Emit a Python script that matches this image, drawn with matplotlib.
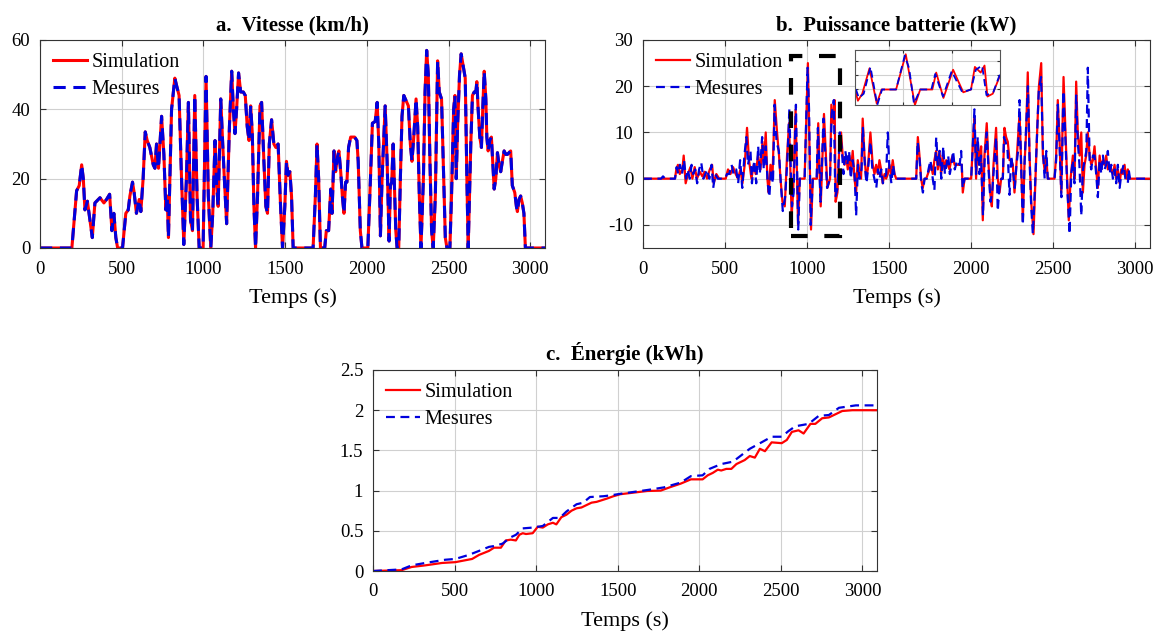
import numpy as np
import matplotlib.pyplot as plt
from matplotlib.patches import Rectangle
from matplotlib.ticker import FuncFormatter

plt.rcParams['font.family'] = ['Liberation Serif', 'DejaVu Serif']
plt.rcParams['axes.unicode_minus'] = False

# a. vitesse (km/h) - simulation and measures share the same profile
v_time = [0, 195, 224, 240, 255, 265, 275, 290, 300, 320, 336, 367, 391, 407, 426, 440, 452, 464, 475, 505,
          525, 540, 550, 566, 576, 590, 607, 617, 631, 644, 656, 672, 693, 703, 713, 725, 744, 758, 770, 778,
          786, 805, 825, 835, 851, 866, 880, 896, 908, 921, 933, 947, 961, 974, 998, 1016, 1030, 1045, 1057, 1071,
          1081, 1090, 1106, 1118, 1128, 1142, 1159, 1173, 1183, 1193, 1203, 1215, 1228, 1244, 1256, 1268, 1279, 1289, 1299, 1309,
          1319, 1331, 1346, 1356, 1370, 1382, 1392, 1403, 1417, 1431, 1443, 1457, 1472, 1484, 1498, 1508, 1518, 1529, 1539, 1549,
          1671, 1685, 1695, 1705, 1716, 1742, 1752, 1766, 1779, 1787, 1799, 1809, 1819, 1829, 1840, 1850, 1860, 1870, 1878, 1888,
          1901, 1925, 1939, 1947, 1960, 1970, 2006, 2022, 2034, 2051, 2063, 2073, 2083, 2093, 2112, 2124, 2136, 2144, 2152, 2161,
          2169, 2177, 2185, 2195, 2205, 2215, 2226, 2240, 2254, 2266, 2276, 2287, 2301, 2311, 2321, 2331, 2346, 2356, 2366, 2376,
          2386, 2396, 2406, 2419, 2433, 2443, 2457, 2470, 2480, 2490, 2508, 2518, 2531, 2539, 2547, 2555, 2567, 2577, 2591, 2602,
          2612, 2620, 2636, 2646, 2657, 2667, 2673, 2681, 2691, 2701, 2709, 2718, 2728, 2734, 2742, 2752, 2762, 2770, 2779, 2789,
          2799, 2809, 2819, 2829, 2840, 2850, 2860, 2870, 2880, 2890, 2905, 2915, 2921, 2931, 2941, 2951, 2961, 2970, 3090]
v_vals = [0, 0, 16.5, 18, 24, 20, 11, 13.5, 10, 3, 13, 14.5, 13, 14, 15.5, 5, 10, 3, 0, 0,
          10, 11, 15, 19, 16, 10, 14, 10.5, 20, 33.5, 31, 29, 24, 23, 30, 23, 38, 27, 11, 15,
          3, 40, 49, 47, 44, 20, 1, 20, 42, 8, 5, 44, 15, 0, 0, 49.5, 15, 0, 10, 31,
          18, 12, 43, 30, 20, 7, 35, 51, 40, 33, 40, 50.5, 45, 45, 44, 35, 31, 41, 33, 12,
          0, 15, 41, 42, 25, 12, 10, 30, 37, 30, 29, 30, 12, 0, 12, 25, 21, 22, 15, 0,
          0, 15, 30, 20, 0, 0, 5, 5, 17, 10, 28, 22, 26, 28, 22, 15, 10, 19, 19, 29,
          32, 32, 31, 25, 5, 0, 0, 20, 36, 36.5, 42, 30, 3.5, 20, 41, 25, 2, 18, 19, 30,
          18, 5, 0, 0, 20, 38, 44, 42.5, 41, 30, 25, 32, 43, 35, 15, 0, 20, 45, 57, 50,
          25, 5, 0, 15, 54, 45, 43, 20, 3, 0, 0, 15, 40, 44, 20, 35, 50, 56, 52, 49,
          20, 0, 30, 44, 45, 45, 48, 40, 32, 29, 40, 51, 43, 32, 28, 31, 32, 25, 17, 20,
          27.5, 24, 22, 25, 28, 27, 27, 27.5, 28, 18, 16, 12, 10.5, 14, 15, 13, 10, 0, 0]

# b. puissance batterie (kW)
p_sim_time = [0, 195, 203, 213, 224, 240, 248, 260, 274, 289, 301, 315, 329, 346, 362, 376, 390, 407, 421, 431,
              447, 464, 504, 518, 533, 549, 565, 579, 594, 606, 620, 634, 646, 661, 675, 687, 701, 716, 728, 736,
              748, 758, 766, 777, 789, 803, 817, 829, 838, 850, 864, 878, 890, 900, 906, 915, 930, 945, 955, 985,
              1005, 1024, 1035, 1060, 1068, 1083, 1103, 1124, 1140, 1148, 1160, 1168, 1174, 1185, 1199, 1207, 1217, 1228, 1238, 1248,
              1258, 1268, 1278, 1289, 1299, 1309, 1321, 1329, 1339, 1350, 1360, 1370, 1386, 1400, 1411, 1421, 1431, 1441, 1451, 1461,
              1472, 1482, 1492, 1502, 1512, 1522, 1533, 1543, 1665, 1675, 1685, 1695, 1705, 1716, 1726, 1736, 1746, 1756, 1766, 1776,
              1787, 1797, 1807, 1817, 1827, 1838, 1848, 1858, 1868, 1878, 1888, 1899, 1943, 1949, 1960, 2000, 2014, 2020, 2030, 2040,
              2051, 2061, 2071, 2081, 2095, 2106, 2116, 2126, 2136, 2152, 2162, 2173, 2183, 2193, 2203, 2213, 2223, 2234, 2244, 2254,
              2264, 2274, 2284, 2295, 2305, 2315, 2325, 2335, 2345, 2356, 2366, 2380, 2392, 2402, 2413, 2427, 2437, 2447, 2457, 2467,
              2508, 2518, 2528, 2539, 2549, 2563, 2575, 2585, 2595, 2606, 2620, 2630, 2640, 2650, 2661, 2671, 2681, 2691, 2701, 2711,
              2722, 2732, 2742, 2752, 2762, 2772, 2783, 2793, 2803, 2813, 2823, 2833, 2844, 2854, 2864, 2874, 2884, 2894, 2905, 2915,
              2925, 2935, 2945, 2955, 2965, 3090]
p_sim = [0, 0, 2, 3, 1, 2, 5, -1, 1, 2.5, 0, 2.5, 0, 1.5, 0.5, 1.5, 0, 2, 3, -1,
         1, 0, 0, 2, 1, 2.5, 1, 0, 2, -1, 3, 11, 4, 0, 3, 1, 5, 2, 8, 3,
         10, 0, -3, 3, 0, 17, 10, 5, 0, -5, -6, 5, 12, 0, -8, -3, 15, -10, 0, 0,
         25, -11, 0, 0, 12, -6, 14, -2, 0, 16, 12, 17, -5, -3, 9, 10, 5, 3, 5, 2,
         5, 2, 6, 0, -3, 4, 1, 0, 13, 5, 0, 2, 10, 3, 1, 3, 1, 4, 2, -1,
         1, 0, 1, 3, 1, 4, 1, 0, 0, 9, 5, 0, -2, 0, 0, 1, 2, 3, 1, 4,
         6, 2, 6, 1, 5, 2, 4, 3, 2, 4, 5, 3, 3, -3, 0, 0, 10, 13, 0, 8,
         3, 7, -9, 5, 12, 3, -3, -6, 3, 11, 0, -3, 0, 0, 11, 9, 8, 4, 4, 3,
         -3, 2, 8, 14, 3, -9, 3, 10, 23, 5, -5, -12, 0, 10, 20, 25, 5, 2, 5, 0,
         0, 5, 17, 8, -3, 22, 10, 0, -9, 0, 5, 0, 21, 10, 5, 10, -3, 3, 5, 10,
         5, 3, 4, 7, 2, -2, 5, 2, 4, 3, 5, 2, 3, 2, 1, 3, 0, 2, -1, 2,
         1, 3, 0, 2, 0, 0]

p_mes_time = [0, 110, 122, 135, 195, 205, 215, 225, 238, 250, 262, 272, 285, 296, 306, 318, 330, 342, 355, 368,
              380, 392, 404, 418, 428, 440, 455, 500, 512, 525, 540, 552, 568, 580, 592, 605, 618, 630, 640, 655,
              664, 678, 690, 702, 712, 726, 736, 748, 760, 770, 780, 792, 802, 814, 828, 840, 852, 866, 880, 892,
              902, 908, 918, 932, 946, 956, 985, 1003, 1012, 1022, 1035, 1058, 1066, 1082, 1100, 1122, 1140, 1150, 1163, 1172,
              1186, 1199, 1210, 1222, 1233, 1245, 1256, 1266, 1278, 1290, 1299, 1310, 1320, 1332, 1340, 1352, 1362, 1374, 1386, 1398,
              1410, 1422, 1432, 1442, 1452, 1462, 1472, 1482, 1492, 1502, 1514, 1524, 1536, 1543, 1665, 1674, 1686, 1696, 1706, 1716,
              1730, 1740, 1752, 1762, 1776, 1787, 1797, 1808, 1818, 1830, 1840, 1850, 1860, 1870, 1880, 1890, 1900, 1915, 1930, 1939,
              1948, 1960, 2000, 2010, 2020, 2030, 2040, 2050, 2060, 2072, 2082, 2095, 2106, 2118, 2128, 2138, 2152, 2162, 2174, 2185,
              2193, 2200, 2210, 2222, 2234, 2244, 2254, 2266, 2276, 2286, 2295, 2305, 2315, 2326, 2336, 2346, 2356, 2366, 2376, 2390,
              2400, 2412, 2426, 2438, 2448, 2458, 2467, 2508, 2518, 2528, 2540, 2550, 2562, 2575, 2586, 2600, 2610, 2620, 2630, 2640,
              2650, 2660, 2671, 2681, 2692, 2702, 2711, 2722, 2732, 2742, 2752, 2762, 2772, 2783, 2793, 2803, 2813, 2823, 2833, 2844,
              2854, 2864, 2874, 2884, 2894, 2905, 2915, 2929, 2940, 2955, 2960, 2968, 3090]
p_mes = [0, 0, 0.5, 0, 0, 2.5, 1, 3, 1, 4, 0, 2, 0, 3, 1, 2, -1, 2, 3.5, 0,
         1, 2, 0, 3, -2, 1, 0, 0, 1, 1, 3, 1, 2, -1, 4, -2, 5, 9, 3, 6,
         -1, 4, -1, 7, 1, 9, 2, 7, -1, -4, 2, -1, 16, 8, 6, -1, -7, -4, 4, 15,
         0, -6, -3, 16, -11, 0, 0, 24, 15, -10, 0, 0, 11, -5, 13, -2, 0, 14, 17, -4,
         -2, 10, 7, 1, 6, 3, 6, 0, 4, 1, -8, 3, 0, 2, 11, 3, -1, 3, 8, 2,
         0, -2, 2, 0, 2, -1, 0, 1, 10, 2, -1, 3, 0, 0, 0, 8, 4, -1, -3, 0,
         0, 2, 4, 1, -2.5, 9, 3, 6, 0, 7, 1, 3, 5, 1, 3, 6, 2, 4, 3, 6,
         -2, 0, 0, 7, 15, 1, 9, 1, 5, -8, 4, 10, 2, -5, -3, 2, 9, -7, -1, 0,
         0, 9, 8, 6, -3.5, 5, 2, -2, 3, 6, 17, 2, -10, 4, 12, 20, 4, -6, -12, -1,
         8, 19, 22, 6, 0, 6, 0, 0, 4, 16, 6, -4, 19, 8, -2, -12, 1, 4, -1, 18,
         8, 3, -8, 2, 4, 6, 24, 4, 2, 5, 5, 1, -4, 4, 1, 5, 2, 3, 6, 1,
         3, 0, 2, -1, 3, -2, 1, 3, 0, -1, 2, 0, 0]

# c. energie (kWh)
e_sim_time = [0, 175, 237, 320, 423, 505, 608, 650, 711, 742, 784, 814, 845, 876, 897, 918, 938, 979, 1010, 1041,
              1072, 1103, 1124, 1155, 1186, 1217, 1248, 1278, 1309, 1340, 1371, 1402, 1433, 1474, 1516, 1681, 1764, 1825, 1887, 1949,
              2021, 2052, 2083, 2114, 2135, 2166, 2197, 2228, 2279, 2310, 2341, 2372, 2403, 2444, 2506, 2537, 2568, 2609, 2640, 2682,
              2712, 2754, 2795, 2836, 2877, 2939, 3090]
e_sim = [0, 0.01, 0.05, 0.07, 0.1, 0.11, 0.15, 0.2, 0.25, 0.29, 0.29, 0.38, 0.39, 0.38, 0.45, 0.47, 0.46, 0.47, 0.55, 0.54,
         0.58, 0.6, 0.58, 0.67, 0.7, 0.75, 0.78, 0.79, 0.82, 0.85, 0.86, 0.88, 0.9, 0.93, 0.955, 0.995, 1.0, 1.045, 1.087, 1.14,
         1.14, 1.19, 1.22, 1.26, 1.25, 1.27, 1.27, 1.33, 1.38, 1.43, 1.41, 1.52, 1.49, 1.6, 1.59, 1.63, 1.73, 1.75, 1.71, 1.83,
         1.83, 1.9, 1.91, 1.95, 1.99, 2.0, 2.0]
e_mes_time = [0, 175, 237, 320, 443, 505, 587, 650, 711, 742, 794, 845, 876, 918, 979, 1010, 1041, 1103, 1145, 1186,
              1248, 1289, 1330, 1413, 1454, 1516, 1691, 1784, 1887, 1949, 2021, 2063, 2135, 2207, 2310, 2382, 2444, 2506, 2547, 2589,
              2671, 2733, 2795, 2857, 2960, 3090]
e_mes = [0, 0.02, 0.07, 0.1, 0.14, 0.15, 0.2, 0.25, 0.3, 0.31, 0.34, 0.42, 0.45, 0.53, 0.54, 0.55, 0.56, 0.66, 0.66, 0.74,
         0.83, 0.85, 0.92, 0.93, 0.94, 0.96, 1.01, 1.04, 1.1, 1.18, 1.19, 1.27, 1.33, 1.36, 1.52, 1.6, 1.67, 1.67, 1.74, 1.8,
         1.83, 1.93, 1.94, 2.03, 2.06, 2.06]

W, H = 1165, 635
fig = plt.figure(figsize=(W / 100, H / 100), dpi=100)


def px(x0, y0, x1, y1):
    # figure rectangle from pixel corners
    return [x0 / W, 1 - y1 / H, (x1 - x0) / W, (y1 - y0) / H]


def style(ax, title):
    ax.grid(True, color='#d0d0d0', lw=0.8)
    ax.set_axisbelow(True)
    ax.tick_params(direction='in', top=True, right=True, labelsize=13.5, length=4, color='#333333')
    ax.tick_params(axis='x', pad=9)
    ax.tick_params(axis='y', pad=7)
    for s in ax.spines.values():
        s.set_color('#333333')
    ax.set_title(title, fontsize=15, fontweight='bold', pad=7)
    ax.set_xlabel('Temps (s)', fontsize=16, labelpad=8)
    ax.set_xlim(0, 3090)
    ax.set_xticks(np.arange(0, 3001, 500))


lw = 1.6
dash = (0, (4, 2.5))

ax1 = fig.add_axes(px(40, 40, 545, 248))
ax1.plot(v_time, v_vals, color='red', lw=2.2, label='Simulation')
ax1.plot(v_time, v_vals, color='#0000dd', lw=2.2, ls=dash, label='Mesures')
ax1.set_ylim(0, 60)
ax1.set_yticks([0, 20, 40, 60])
style(ax1, 'a.  Vitesse (km/h)')

ax2 = fig.add_axes(px(643, 40, 1150, 248))
ax2.plot(p_sim_time, p_sim, color='red', lw=lw, label='Simulation')
ax2.plot(p_mes_time, p_mes, color='#0000dd', lw=lw, ls=dash, label='Mesures')
ax2.set_ylim(-15, 30)
ax2.set_yticks([-10, 0, 10, 20, 30])
style(ax2, 'b.  Puissance batterie (kW)')
ax2.add_patch(Rectangle((900, -12.5), 300, 39, fill=False, ec='black', lw=3, ls=(0, (4, 4)), zorder=5))

axin = fig.add_axes(px(855, 50, 1000, 105))
axin.plot(p_sim_time, p_sim, color='red', lw=1.3)
axin.plot(p_mes_time, p_mes, color='#0000dd', lw=1.3, ls=dash)
axin.set_xlim(900, 1200)
axin.set_ylim(-11, 28)
axin.set_xticks([1000, 1100])
axin.set_yticks([0, 10, 20])
axin.set_xticklabels([])
axin.set_yticklabels([])
axin.grid(True, color='#d0d0d0', lw=0.8)
axin.tick_params(direction='in', top=True, right=True, length=2.5, color='#333333')
for s in axin.spines.values():
    s.set_color('#555555')

ax3 = fig.add_axes(px(373, 370, 877, 571))
ax3.plot(e_sim_time, e_sim, color='red', lw=lw, label='Simulation')
ax3.plot(e_mes_time, e_mes, color='#0000dd', lw=lw, ls=dash, label='Mesures')
ax3.set_ylim(0, 2.5)
ax3.set_yticks([0, 0.5, 1, 1.5, 2, 2.5])
ax3.yaxis.set_major_formatter(FuncFormatter(lambda y, _: '%g' % y))
style(ax3, 'c.  Énergie (kWh)')

for ax in (ax1, ax2, ax3):
    ax.legend(loc='upper left', frameon=False, fontsize=14.5, handlelength=1.7,
              borderaxespad=0.25, labelspacing=0.4, handletextpad=0.2)

fig.savefig('out.png', dpi=100)
